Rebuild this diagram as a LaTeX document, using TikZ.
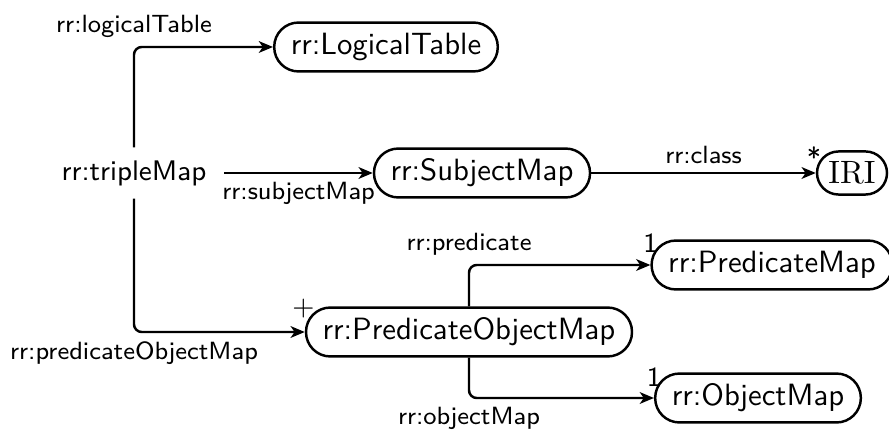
\documentclass[tikz,border=0pt]{standalone}
\usetikzlibrary{arrows.meta}
\begin{document}
\begin{tikzpicture}[x=0.325pt,y=-0.325pt,
  box/.style={draw, rectangle, rounded corners=7.9pt, minimum height=15.9pt, inner xsep=5.4pt,
    font=\sffamily\fontsize{10}{12}\selectfont, line width=0.8pt},
  arr/.style={-{Stealth[length=4.6pt,width=3.8pt,inset=1.3pt]}, line width=0.8pt, rounded corners=2.5pt},
  lab/.style={font=\sffamily\fontsize{8.1}{10}\selectfont, inner sep=2.7pt},
  mult/.style={font=\sffamily\fontsize{9}{10}\selectfont, inner sep=0pt}]
\useasboundingbox (0,0) rectangle (889,434);

\node[box] (lt) at (386,47) {rr:LogicalTable};
\node[box, draw=none, inner xsep=3pt, text width=52pt, align=center,
  font=\sffamily\fontsize{9.2}{10}\selectfont] (tm) at (134,173) {rr:tripleMap};
\node[box] (sm) at (482,173) {rr:SubjectMap};
\node[box, font=\rmfamily\fontsize{10.5}{12}\selectfont, minimum height=14pt, minimum width=22.75pt,
  inner sep=0pt, rounded corners=7pt] (iri) at (852,173) {IRI};
\node[box] (pom) at (469,332) {rr:PredicateObjectMap};
\node[box] (pm) at (772,265) {rr:PredicateMap};
\node[box] (om) at (758,398) {rr:ObjectMap};

\draw[arr] (tm.north) |- node[lab, above, pos=0.5] (l1) {rr:logicalTable} (lt.west);
\draw[arr] (tm.east) -- node[lab, below] (l2) {rr:subjectMap} (sm.west);
\draw[arr] (tm.south) |- node[lab, below, pos=0.5] (l3) {rr:predicateObjectMap} (pom.west);
\draw[arr] (sm.east) -- node[lab, above] (l4) {rr:class} (iri.west);
\draw[arr] (pom.north) |- node[lab, above, pos=0.5] (l5) {rr:predicate} (pm.west);
\draw[arr] (pom.south) |- node[lab, below, pos=0.5] (l6) {rr:objectMap} (om.west);

\node[mult] (m1) at ([xshift=-0.6pt, yshift=5pt]iri.west) {*};
\node[mult] (m2) at ([yshift=7.15pt]pm.west) {1};
\node[mult] (m3) at ([yshift=6.8pt]om.west) {1};
\node[mult] (m4) at ([xshift=-0.4pt, yshift=7.6pt]pom.west) {+};
\end{tikzpicture}
\end{document}
